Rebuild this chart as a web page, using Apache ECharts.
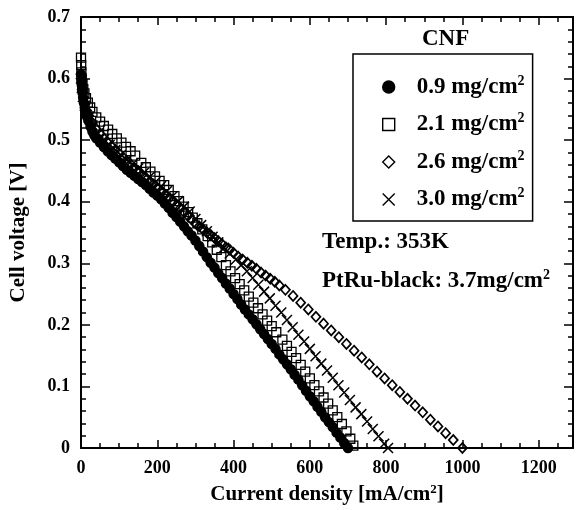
<!DOCTYPE html>
<html>
<head>
<meta charset="utf-8">
<script src="https://cdn.jsdelivr.net/npm/echarts@6/dist/echarts.min.js"></script>
<style>
html, body { margin: 0; padding: 0; background: #fff; }
#chart { width: 576px; height: 510px; }
</style>
</head>
<body>
<div id="chart"></div>
<script>
// current density [mA/cm2] and cell voltage [V]
const cur09 = [0,1,2,3,4,6,8,10,13,16,20,25,30,35,40,50,60,70,80,90,100,110,120,130,140,150,160,170,180,190,200,210,220,230,240,250,260,270,280,290,300,310,320,330,340,350,360,370,380,390,400,410,420,430,440,450,460,470,480,490,500,510,520,530,540,550,560,570,580,590,600,610,620,630,640,650,660,670,680,690,700];
const volt09 = [0.607,0.598,0.590,0.583,0.577,0.568,0.560,0.553,0.545,0.538,0.531,0.522,0.514,0.508,0.503,0.496,0.489,0.482,0.476,0.470,0.464,0.458,0.452,0.447,0.442,0.437,0.432,0.427,0.421,0.415,0.410,0.404,0.397,0.390,0.382,0.375,0.368,0.360,0.352,0.345,0.337,0.328,0.319,0.310,0.301,0.293,0.284,0.276,0.267,0.259,0.250,0.242,0.233,0.225,0.217,0.209,0.201,0.193,0.185,0.177,0.169,0.161,0.152,0.144,0.136,0.128,0.119,0.111,0.102,0.093,0.084,0.076,0.067,0.059,0.050,0.042,0.034,0.025,0.017,0.008,0.000];

const cur21 = [0,0.5,1,2,4,6,9,13,18,24,30,40,50,60,71,82,94,106,118,130,142,158,170,182,194,206,218,230,245,257,269,281,293,305,318,332,344,356,368,380,392,404,416,428,440,452,464,476,488,500,512,528,540,552,564,576,588,600,612,624,636,648,660,672,684,696,706,714];
const volt21 = [0.634,0.622,0.610,0.600,0.591,0.583,0.576,0.568,0.561,0.553,0.546,0.537,0.530,0.523,0.517,0.510,0.503,0.496,0.489,0.482,0.475,0.463,0.456,0.449,0.441,0.434,0.427,0.419,0.409,0.401,0.392,0.383,0.374,0.365,0.355,0.344,0.334,0.322,0.310,0.297,0.287,0.276,0.266,0.256,0.246,0.236,0.227,0.217,0.207,0.198,0.188,0.176,0.166,0.156,0.146,0.135,0.124,0.113,0.102,0.092,0.082,0.072,0.061,0.050,0.039,0.027,0.015,0.004];

const cur26 = [0,3,6,10,15,20,30,40,50,60,70,80,90,100,110,120,130,140,150,160,170,180,190,200,210,220,230,240,250,260,270,280,290,300,310,320,330,340,350,360,370,380,390,400,412,424,436,448,460,472,484,496,508,520,536,556,576,596,616,636,656,676,696,716,736,756,776,796,816,836,856,876,896,916,936,956,976,1000];
const volt26 = [0.600,0.582,0.570,0.558,0.548,0.540,0.528,0.518,0.510,0.503,0.496,0.490,0.484,0.478,0.472,0.466,0.461,0.455,0.450,0.444,0.439,0.433,0.428,0.422,0.417,0.411,0.405,0.400,0.394,0.389,0.383,0.377,0.371,0.365,0.360,0.355,0.350,0.346,0.341,0.336,0.331,0.326,0.322,0.317,0.311,0.306,0.301,0.296,0.291,0.285,0.280,0.275,0.270,0.264,0.257,0.247,0.236,0.225,0.213,0.202,0.191,0.180,0.169,0.158,0.147,0.136,0.124,0.113,0.102,0.091,0.080,0.069,0.058,0.046,0.035,0.024,0.013,0.000];

const cur30 = [0,2,5,10,20,30,45,60,75,90,105,120,135,150,165,180,195,210,225,240,255,270,285,300,315,330,345,360,375,390,406,420,435,450,465,480,495,510,525,540,555,570,585,600,615,630,645,660,675,690,705,720,735,750,765,780,795,805];
const volt30 = [0.600,0.585,0.570,0.556,0.537,0.524,0.511,0.501,0.492,0.484,0.476,0.468,0.461,0.454,0.447,0.440,0.432,0.425,0.417,0.409,0.401,0.392,0.384,0.372,0.362,0.352,0.343,0.334,0.325,0.316,0.306,0.297,0.287,0.276,0.265,0.254,0.243,0.231,0.220,0.208,0.196,0.184,0.173,0.161,0.149,0.137,0.126,0.114,0.102,0.090,0.078,0.066,0.055,0.043,0.031,0.019,0.007,0.000];

const loadings = ['0.9', '2.1', '2.6', '3.0'];

const FONT = '"Liberation Serif", "DejaVu Serif", serif';

function pairs(xs, ys) {
    return xs.map(function (x, i) { return [x, ys[i]]; });
}

let chart = echarts.init(document.getElementById('chart'));

// bold serif text with a superscript 2
const supRich = {
    a: { fontFamily: FONT, fontWeight: 'bold', fontSize: 23, color: '#000', lineHeight: 26 },
    s: { fontFamily: FONT, fontWeight: 'bold', fontSize: 14, color: '#000', verticalAlign: 'top', lineHeight: 14 }
};

function frameX(gridIndex, pos, interval, tickLen, showLine, labels) {
    return {
        type: 'value', gridIndex: gridIndex, position: pos,
        min: 0, max: 1290, interval: interval,
        axisLine: { show: showLine, onZero: false, lineStyle: { color: '#000', width: 2 } },
        axisTick: { show: true, inside: true, length: tickLen, lineStyle: { color: '#000', width: 1.5 } },
        axisLabel: labels ? {
            show: true, margin: 11, color: '#000', fontFamily: FONT, fontWeight: 'bold', fontSize: 18,
            formatter: function (v) { return v % 200 === 0 ? String(v) : ''; }
        } : { show: false },
        splitLine: { show: false }
    };
}

function frameY(gridIndex, pos, labels, show) {
    return {
        type: 'value', gridIndex: gridIndex, position: pos, show: show,
        min: 0, max: 0.7, interval: 0.1,
        axisLine: { show: true, onZero: false, lineStyle: { color: '#000', width: 2 } },
        axisTick: { show: true, inside: true, length: 9, lineStyle: { color: '#000', width: 1.5 } },
        minorTick: { show: true, splitNumber: 5, length: 5, lineStyle: { color: '#000', width: 1.5 } },
        axisLabel: labels ? { show: true, margin: 11, color: '#000', fontFamily: FONT, fontWeight: 'bold', fontSize: 18 } : { show: false },
        splitLine: { show: false }
    };
}

let xMain = frameX(0, 'bottom', 200, 8, true, true);
xMain.name = '{a|Current density [mA/cm}{s|2}{a|]}';
xMain.nameLocation = 'middle';
xMain.nameGap = 35;
xMain.nameTextStyle = {
    rich: {
        a: { fontFamily: FONT, fontWeight: 'bold', fontSize: 21, color: '#000', lineHeight: 24 },
        s: { fontFamily: FONT, fontWeight: 'bold', fontSize: 13, color: '#000', verticalAlign: 'top', lineHeight: 13 }
    }
};

let yMain = frameY(0, 'left', true, true);
yMain.name = 'Cell voltage [V]';
yMain.nameLocation = 'middle';
yMain.nameGap = 52;
yMain.nameTextStyle = { fontFamily: FONT, fontWeight: 'bold', fontSize: 21, color: '#000' };

const crossPath = 'path://M0,0L10,10M10,0L0,10';

let option = {
    backgroundColor: '#fff',
    animation: false,
    grid: [
        { left: 81, top: 17, right: 3, bottom: 62, containLabel: false, outerBoundsMode: 'none' },
        { left: 81, top: 17, right: 3, bottom: 62, containLabel: false, outerBoundsMode: 'none' }
    ],
    xAxis: [
        xMain,
        frameX(0, 'top', 200, 8, true, false),
        frameX(1, 'bottom', 50, 5, false, false),
        frameX(1, 'top', 50, 5, false, false)
    ],
    yAxis: [
        yMain,
        frameY(0, 'right', false, true),
        frameY(1, 'left', false, false),
        frameY(1, 'right', false, false)
    ],
    legend: {
        orient: 'vertical',
        left: 353, top: 54,
        padding: [20, 8, 10, 29],
        itemWidth: 12, itemHeight: 12, itemGap: 13,
        borderColor: '#000', borderWidth: 1.5,
        data: loadings,
        formatter: function (name) { return '{a|' + name + ' mg/cm}{s|2}'; },
        textStyle: {
            rich: {
                a: Object.assign({}, supRich.a, { padding: [0, 0, 0, 17] }),
                s: supRich.s
            }
        },
        itemStyle: { borderWidth: 1.4, opacity: 1 }
    },
    graphic: [
        { type: 'text', left: 422, top: 28, style: { text: 'CNF', font: 'bold 23px ' + FONT, fill: '#000' } },
        { type: 'text', left: 322, top: 231, style: { text: '{a|Temp.: 353K}', rich: supRich } },
        { type: 'text', left: 322, top: 268, style: { text: '{a|PtRu-black: 3.7mg/cm}{s|2}', rich: supRich } }
    ],
    series: [
        {
            name: loadings[0], type: 'scatter', clip: false,
            data: pairs(cur09, volt09),
            symbol: 'circle', symbolSize: 10.5,
            itemStyle: { color: '#000', borderColor: '#000', borderWidth: 0, opacity: 1 }
        },
        {
            name: loadings[1], type: 'scatter', clip: false,
            data: pairs(cur21, volt21),
            symbol: 'rect', symbolSize: 9,
            itemStyle: { color: 'rgba(0,0,0,0)', borderColor: '#000', borderWidth: 1.3, opacity: 1 }
        },
        {
            name: loadings[2], type: 'scatter', clip: false,
            data: pairs(cur26, volt26),
            symbol: 'diamond', symbolSize: [9, 10],
            itemStyle: { color: 'rgba(0,0,0,0)', borderColor: '#000', borderWidth: 1.7, opacity: 1 }
        },
        {
            name: loadings[3], type: 'scatter', clip: false,
            data: pairs(cur30, volt30),
            symbol: crossPath, symbolSize: 10,
            itemStyle: { color: 'rgba(0,0,0,0)', borderColor: '#000', borderWidth: 1.5, opacity: 1 }
        }
    ]
};

chart.setOption(option);
</script>
</body>
</html>
